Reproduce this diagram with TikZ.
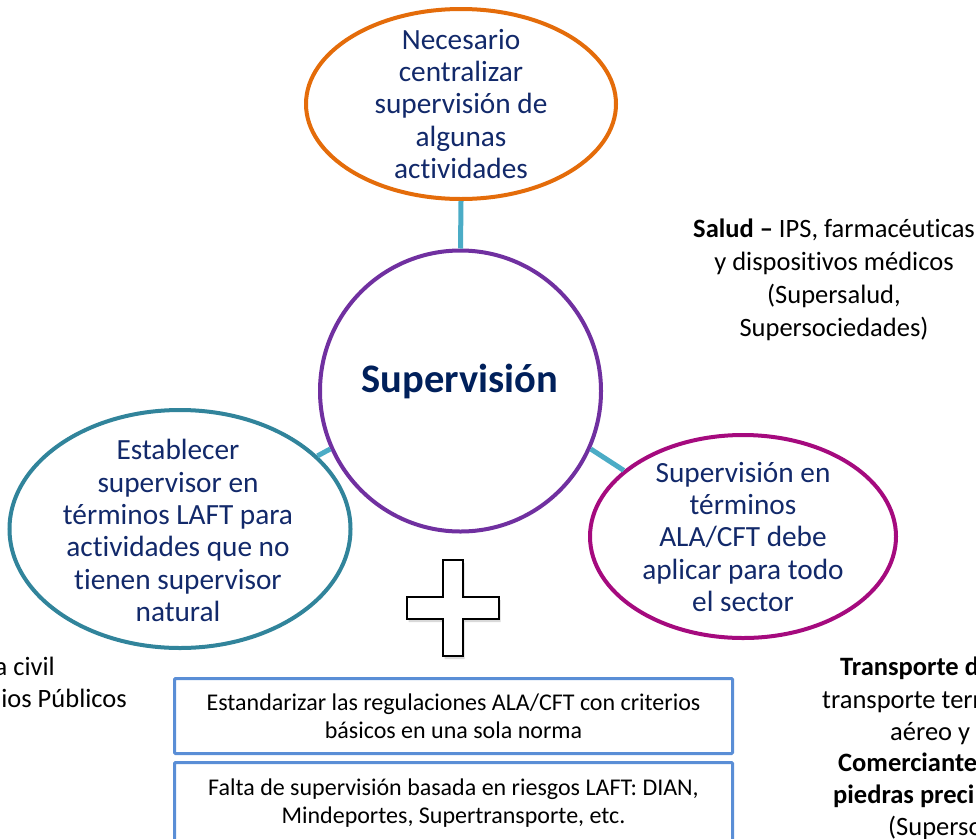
\documentclass[tikz,border=0pt]{standalone}
\usepackage{fontspec}
\setmainfont{Carlito}[Ligatures={NoCommon}]
\usetikzlibrary{shapes.geometric,shadows}
\definecolor{navytxt}{HTML}{12296A}
\definecolor{supnavy}{HTML}{00205B}
\definecolor{orangec}{HTML}{E46C0A}
\definecolor{purplec}{HTML}{7030A0}
\definecolor{tealc}{HTML}{31849B}
\definecolor{magentac}{HTML}{A50A7E}
\definecolor{connc}{HTML}{4BACC6}
\definecolor{boxc}{HTML}{5A8ED6}
\tikzset{
  bubble/.style={ellipse, line width=4pt, fill=white, inner sep=0pt},
  etext/.style={align=center, text=navytxt, inner sep=0pt, font=\fontsize{29.3}{32.3}\selectfont},
  side/.style={inner sep=0pt, text=black, font=\fontsize{26.5}{33}\selectfont},
  conn/.style={line width=5pt, draw=connc},
  bar/.style={draw=boxc, line width=3pt, rounded corners=1pt, minimum width=558pt, align=center, inner sep=0pt, text=black, font=\fontsize{24}{28}\selectfont},
  plusshape/.style={draw=black, line width=2.2pt, fill=white, drop shadow={shadow xshift=1.5pt, shadow yshift=-3pt, opacity=0.3}}
}
\begin{document}
\begin{tikzpicture}[x=1pt,y=-1pt]
\useasboundingbox (0,0) rectangle (976,838);

% ellipses and central circle
\node[bubble, draw=orangec, minimum width=310pt, minimum height=190pt] (top) at (461,104) {};
\node[circle, line width=4pt, draw=purplec, fill=white, inner sep=0pt, minimum size=281pt] (sup) at (460.5,391) {};
\node[bubble, draw=tealc, minimum width=341pt, minimum height=238pt] (left) at (180,529) {};
\node[bubble, draw=magentac, minimum width=306pt, minimum height=203pt] (right) at (743,536.5) {};

% connectors
\draw[conn] (sup.90) -- (top.270);
\draw[conn] (sup.204) -- (left.28);
\draw[conn] (sup.-24) -- (right.151);

% texts in shapes
\node[etext] (toptxt) at (461,104) {Necesario\\centralizar\\supervisión de\\algunas\\actividades};
\node[inner sep=0pt, text=supnavy, font=\fontsize{40.5}{46}\selectfont\bfseries] (suptxt) at (460,381) {Supervisión};
\node[etext] (lefttxt) at (178,530.5) {Establecer\\supervisor en\\términos LAFT para\\actividades que no\\tienen supervisor\\natural};
\node[etext] (righttxt) at (743,537) {Supervisión en\\términos\\ALA/CFT debe\\aplicar para todo\\el sector};

% side texts
\node[side, align=center] (salud) at (834,279.5) {\textbf{Salud –} IPS, farmacéuticas\\y dispositivos médicos\\(Supersalud,\\Supersociedades)};
\node[side, anchor=base east] (l1) at (55,675) {a civil};
\node[side, anchor=base east] (l2) at (127,707) {ios Públicos};
\node[side, anchor=base west] (r1) at (840,675) {\textbf{Transporte d}};
\node[side, anchor=base west] (r2) at (822,708) {transporte terr};
\node[side, anchor=base west] (r3) at (890,740) {aéreo y};
\node[side, anchor=base west] (r4) at (838,771) {\textbf{Comerciantes}};
\node[side, anchor=base west] (r5) at (833,803) {\textbf{piedras preci}};
\node[side, anchor=base west] (r6) at (888,835) {(Supersoc};

% plus sign
\draw[plusshape] (443,560) -- (463,560) -- (463,597) -- (499,597) -- (499,619) -- (463,619) -- (463,656) -- (443,656) -- (443,619) -- (407,619) -- (407,597) -- (443,597) -- cycle;

% boxes
\node[bar, minimum height=75pt] (box1) at (453.5,716) {Estandarizar las regulaciones ALA/CFT con criterios\\básicos en una sola norma};
\node[bar, minimum height=81pt] (box2) at (453.5,803) {Falta de supervisión basada en riesgos LAFT: DIAN,\\Mindeportes, Supertransporte, etc.};
\end{tikzpicture}
\end{document}
